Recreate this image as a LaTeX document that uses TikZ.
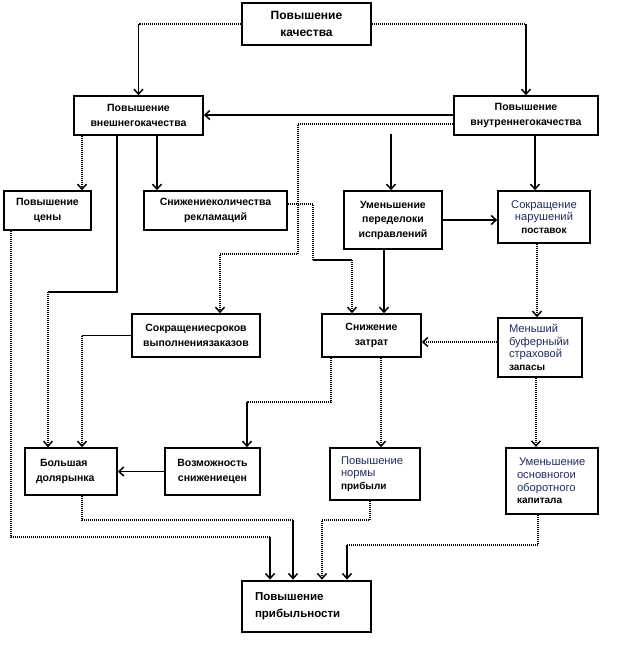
\documentclass[tikz,border=0pt]{standalone}
\usepackage{fontspec}
\setmainfont{Liberation Sans}
\usetikzlibrary{arrows.meta}
\definecolor{txtblue}{RGB}{35,45,95}
\begin{document}
\begin{tikzpicture}[x=1pt,y=-1pt,
  every node/.style={inner sep=0pt},
  bx/.style={draw, line width=1.5pt, align=center, font=\bfseries\fontsize{10.5}{14.5}\selectfont},
  bigbx/.style={bx, line width=2.8pt},
  regbx/.style={bx, font=\fontsize{11.2}{12.6}\selectfont, text=txtblue},
  sl/.style={line width=1.7pt},
  dl/.style={line width=2pt, dash pattern=on 1pt off 1pt},
  arr/.style={-{Straight Barb[length=5pt,width=9pt,line width=1.5pt]}}]
\fill[white] (0,0) rectangle (621,653);
\useasboundingbox (0,0) rectangle (621,653);
\newcommand{\lastb}[1]{{\color{black}\bfseries\fontsize{10}{12.6}\selectfont #1}}
% nodes
\node[bigbx, minimum width=129pt, minimum height=42pt, font=\bfseries\fontsize{12}{17}\selectfont] (q) at (306.5,24) {Повышение\\качества};
\node[bx, minimum width=129pt, minimum height=39pt] (ext) at (138.5,115.5) {Повышение\\внешнегокачества};
\node[bx, minimum width=144pt, minimum height=39pt] (int) at (526,115.5) {Повышение\\внутреннегокачества};
\node[bx, minimum width=87pt, minimum height=39pt] (price) at (47.5,210.5) {Повышение\\цены};
\node[bx, minimum width=143pt, minimum height=39pt] (recl) at (215.5,210.5) {Снижениеколичества\\рекламаций};
\node[bx, minimum width=98pt, minimum height=58pt] (rew) at (393,220) {Уменьшение\\переделоки\\исправлений};
\node[regbx, minimum width=92pt, minimum height=52pt] (supp) at (544,217) {Сокращение\\нарушений\\\lastb{поставок}};
\node[bx, minimum width=128pt, minimum height=43pt] (terms) at (196,335.5) {Сокращениесроков\\выполнениязаказов};
\node[bx, minimum width=99pt, minimum height=43pt] (cost) at (371.5,335.5) {Снижение\\затрат};
\node[regbx, minimum width=84pt, minimum height=59pt, align=left, text width=62pt] (buf) at (540,347.5) {Меньший\\буферныйи\\страховой\\\lastb{запасы}};
\node[bx, minimum width=92pt, minimum height=47pt, align=left, text width=70pt] (share) at (71,471.5) {\hspace*{4pt}Большая\\долярынка};
\node[bx, minimum width=95pt, minimum height=47pt] (pricecut) at (212.5,471.5) {Возможность\\снижениецен};
\node[regbx, minimum width=90pt, minimum height=52pt, align=left, text width=68pt] (margin) at (375,474) {Повышение\\нормы\\\lastb{прибыли}};
\node[regbx, line width=2.2pt, minimum width=92pt, minimum height=66pt, align=left, text width=70pt] (capital) at (552,481) {\hspace*{2pt}Уменьшение\\основногои\\оборотного\\\lastb{капитала}};
\node[bigbx, minimum width=129pt, minimum height=51pt, align=left, text width=103pt, font=\bfseries\fontsize{11.5}{17}\selectfont] (prof) at (306.5,606.5) {Повышение\\прибыльности};
% connectors
\coordinate (k1) at (ext.north |- q.west);
\coordinate (k2) at (int.north |- q.east);
\draw[dl] (q.west) -- (k1);
\draw[sl,arr] (k1) -- (ext.north);
\draw[dl] (q.east) -- (k2);
\draw[sl,arr] (k2) -- (int.north);
\draw[sl,arr] ([yshift=0.5pt]int.west) -- ([yshift=0.5pt]ext.east);
\draw[dl,arr] ([yshift=-8.5pt]int.west) -| (298,254) -| ([xshift=24pt]terms.north);
\draw[dl,arr] ([xshift=-56.5pt]ext.south) -- ([xshift=34.5pt]price.north);
\draw[sl,arr] ([xshift=18.5pt]ext.south) -- ([xshift=-58.5pt]recl.north);
\coordinate (k3) at (48,292);
\draw[sl] ([xshift=-21.5pt]ext.south) |- (k3);
\draw[dl,arr] (k3) -- ([xshift=-23pt]share.north);
\coordinate (k4) at (270,537);
\draw[dl] ([xshift=-36.5pt]price.south) |- (k4);
\draw[sl,arr] (k4) -- ([xshift=-36.5pt]prof.north);
\coordinate (k5) at (313,260);
\coordinate (k6) at (352,260);
\draw[dl] ([yshift=6.5pt]recl.east) -| (k5);
\draw[sl] (k5) -- (k6);
\draw[dl,arr] (k6) -- ([xshift=-19.5pt]cost.north);
\coordinate (f1) at (391,134);
\draw[sl,arr] (f1) -- ([xshift=-2pt]rew.north);
\draw[sl,arr] ([xshift=9pt]int.south) -- ([xshift=-9pt]supp.north);
\draw[sl,arr] (rew.east) -- (rew.east -| supp.west);
\draw[sl,arr] ([xshift=-9pt]rew.south) -- ([xshift=12.5pt]cost.north);
\draw[dl,arr] ([xshift=-7pt]supp.south) -- ([xshift=-3pt]buf.north);
\draw[dl,arr] ([yshift=5.5pt]buf.west) -- ([yshift=-6.5pt]cost.east);
\draw[dl,arr] ([xshift=9.5pt]cost.south) -- ([xshift=6pt]margin.north);
\coordinate (k7) at (247,402);
\draw[dl] ([xshift=-40.5pt]cost.south) |- (k7);
\draw[sl,arr] (k7) -- ([xshift=34.5pt]pricecut.north);
\draw[dl,arr] ([xshift=-4pt]buf.south) -- ([xshift=-16pt]capital.north);
\coordinate (k8) at (82,335.5);
\draw[sl] (terms.west) -- (k8);
\draw[dl,arr] (k8) -- ([xshift=11pt]share.north);
\draw[sl,arr] (pricecut.west) -- (share.east);
\coordinate (k9) at (293,520);
\draw[dl] ([xshift=11pt]share.south) |- (k9);
\draw[sl,arr] (k9) -- ([xshift=-13.5pt]prof.north);
\coordinate (k10) at (322,520);
\draw[dl,arr] ([xshift=-5pt]margin.south) |- (k10) -- ([xshift=15.5pt]prof.north);
\coordinate (k11) at (347,545);
\draw[dl] ([xshift=-14pt]capital.south) |- (k11);
\draw[sl,arr] (k11) -- ([xshift=40.5pt]prof.north);
\end{tikzpicture}
\end{document}
